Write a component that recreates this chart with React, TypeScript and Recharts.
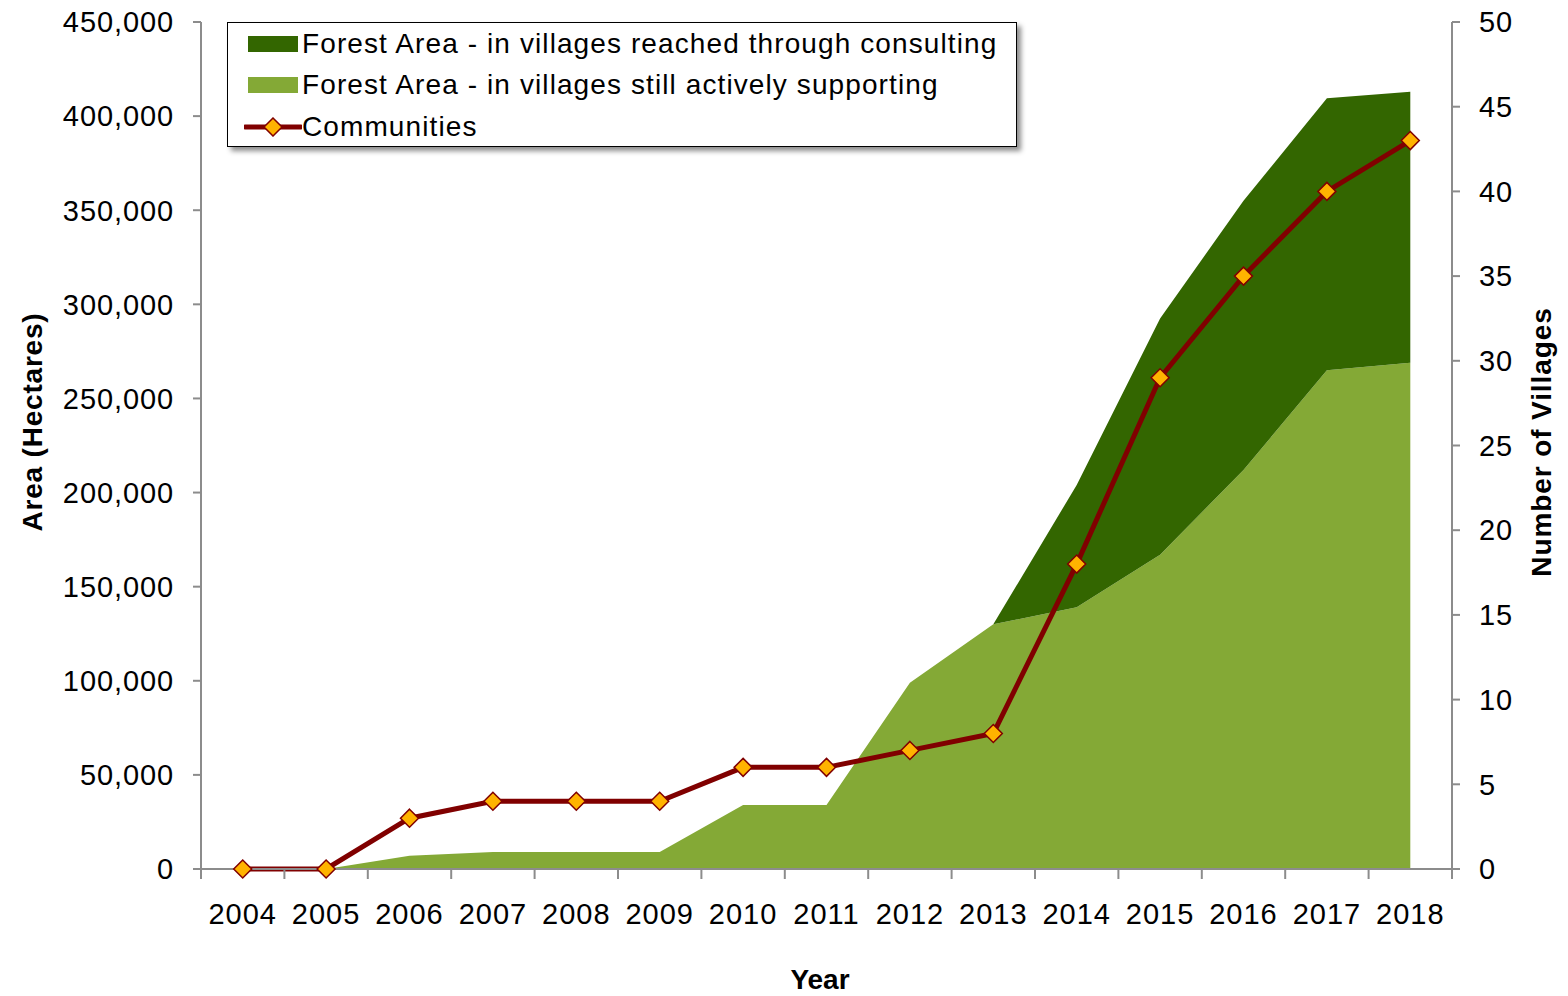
import React from 'react'
import { ComposedChart, Area, Line, XAxis, YAxis, Legend, Label } from 'recharts'

const years = ['2004', '2005', '2006', '2007', '2008', '2009', '2010', '2011', '2012', '2013', '2014', '2015', '2016', '2017', '2018']
// hectares, villages still actively supporting
const activeArea = [0, 0, 7000, 9000, 9000, 9000, 34000, 34000, 99000, 130000, 139000, 167000, 212000, 265000, 269000]
// hectares, villages reached through consulting (stacked on top)
const consultingArea = [0, 0, 0, 0, 0, 0, 0, 0, 0, 0, 65000, 125500, 143000, 144500, 144000]
const communities = [0, 0, 3, 4, 4, 4, 6, 6, 7, 8, 18, 29, 35, 40, 43]

const areaTicks = [0, 50000, 100000, 150000, 200000, 250000, 300000, 350000, 400000, 450000]
const villageTicks = [0, 5, 10, 15, 20, 25, 30, 35, 40, 45, 50]

const data = years.map((year, i) => ({
  year,
  active: activeArea[i],
  consulting: consultingArea[i],
  communities: communities[i],
}))

const WIDTH = 1568
const HEIGHT = 996
const LEFT_W = 201
const RIGHT_W = 116
const X_H = 127
const BAND = (WIDTH - LEFT_W - RIGHT_W) / years.length
const FONT = '"Liberation Sans", Arial, sans-serif'
const AXIS = '#8C8C8C'
const DARK = '#336600'
const LIGHT = '#84A936'
const LINE = '#800000'
const MARK = '#FFB300'

const X_TICK = 10
const X_MARGIN = 24

const YearTick = (props: any) => {
  const { x, y, payload, index } = props
  const axisY = y - X_TICK - X_MARGIN
  const half = BAND / 2
  return (
    <g>
      <line x1={x - half} x2={x - half} y1={axisY} y2={axisY + X_TICK} stroke={AXIS} strokeWidth={2} />
      {index === years.length - 1 && (
        <line x1={x + half} x2={x + half} y1={axisY} y2={axisY + X_TICK} stroke={AXIS} strokeWidth={2} />
      )}
      <text x={x} y={y} dy="0.71em" textAnchor="middle" fill="#000" fontSize={29} letterSpacing={1} fontFamily={FONT}>
        {payload.value}
      </text>
    </g>
  )
}

const Diamond = (props: any) => {
  const { cx, cy, index } = props
  if (cx == null || cy == null) return null
  const r = 9
  return (
    <polygon
      key={`d-${index}`}
      points={`${cx},${cy - r} ${cx + r},${cy} ${cx},${cy + r} ${cx - r},${cy}`}
      fill={MARK}
      stroke={LINE}
      strokeWidth={1.5}
    />
  )
}

const rowStyle: React.CSSProperties = { display: 'flex', alignItems: 'center', height: 41.5 }
const textStyle: React.CSSProperties = {
  fontSize: 28,
  letterSpacing: 1.1,
  color: '#000',
  fontFamily: FONT,
  whiteSpace: 'nowrap',
}

const LegendBox = () => (
  <div
    style={{
      boxSizing: 'border-box',
      width: 790,
      height: 125,
      border: '1.5px solid #000',
      background: '#fff',
      boxShadow: '4px 4px 5px rgba(0,0,0,0.45)',
    }}
  >
    <div style={rowStyle}>
      <span style={{ width: 50, height: 16, background: DARK, marginLeft: 20, marginRight: 4 }} />
      <span style={textStyle}>Forest Area - in villages reached through consulting</span>
    </div>
    <div style={rowStyle}>
      <span style={{ width: 50, height: 16, background: LIGHT, marginLeft: 20, marginRight: 4 }} />
      <span style={textStyle}>Forest Area - in villages still actively supporting</span>
    </div>
    <div style={rowStyle}>
      <svg width={58} height={20} style={{ marginLeft: 16, display: 'block' }}>
        <line x1={1} x2={57} y1={10} y2={10} stroke={LINE} strokeWidth={5} strokeLinecap="round" />
        <polygon points="29,1 38,10 29,19 20,10" fill={MARK} stroke={LINE} strokeWidth={1.5} />
      </svg>
      <span style={textStyle}>Communities</span>
    </div>
  </div>
)

const App = () => {
  return (
    <div style={{ position: 'absolute', left: 0, top: 0, fontFamily: FONT }}>
      <ComposedChart width={WIDTH} height={HEIGHT} data={data} margin={{ top: 22, right: 0, bottom: 0, left: 0 }}>
        <XAxis
          dataKey="year"
          height={X_H}
          padding={{ left: BAND / 2, right: BAND / 2 }}
          stroke={AXIS}
          strokeWidth={2}
          tickLine={false}
          tickSize={X_TICK}
          tickMargin={X_MARGIN}
          interval={0}
          tick={<YearTick />}
        >
          <Label
            content={() => (
              <text x={820} y={989} textAnchor="middle" fontSize={28} fontWeight="bold" fontFamily={FONT} fill="#000">
                Year
              </text>
            )}
          />
        </XAxis>
        <YAxis
          yAxisId="left"
          width={LEFT_W}
          domain={[0, 450000]}
          ticks={areaTicks}
          interval={0}
          stroke={AXIS}
          strokeWidth={2}
          tickSize={8}
          tickMargin={19}
          tick={{ fill: '#000', fontSize: 29, letterSpacing: 0.9, fontFamily: FONT }}
          tickFormatter={(v: number) => v.toLocaleString('en-US')}
        >
          <Label
            content={() => (
              <text x={32} y={422} transform="rotate(-90 32 422)" textAnchor="middle" dominantBaseline="central" fontSize={28} letterSpacing={0.8} fontWeight="bold" fontFamily={FONT} fill="#000">
                Area (Hectares)
              </text>
            )}
          />
        </YAxis>
        <YAxis
          yAxisId="right"
          orientation="right"
          width={RIGHT_W}
          domain={[0, 50]}
          ticks={villageTicks}
          interval={0}
          stroke={AXIS}
          strokeWidth={2}
          tickSize={8}
          tickMargin={19}
          tick={{ fill: '#000', fontSize: 29, letterSpacing: 0.9, fontFamily: FONT, textAnchor: 'start' }}
        >
          <Label
            content={() => (
              <text x={1541} y={442} transform="rotate(-90 1541 442)" textAnchor="middle" dominantBaseline="central" fontSize={28} letterSpacing={0.9} fontWeight="bold" fontFamily={FONT} fill="#000">
                Number of Villages
              </text>
            )}
          />
        </YAxis>
        <Area
          yAxisId="left"
          type="linear"
          dataKey="active"
          stackId="forest"
          stroke="none"
          fill={LIGHT}
          fillOpacity={1}
          isAnimationActive={false}
        />
        <Area
          yAxisId="left"
          type="linear"
          dataKey="consulting"
          stackId="forest"
          stroke="none"
          fill={DARK}
          fillOpacity={1}
          isAnimationActive={false}
        />
        <Line
          yAxisId="right"
          type="linear"
          dataKey="communities"
          stroke={LINE}
          strokeWidth={5}
          dot={<Diamond />}
          activeDot={false}
          isAnimationActive={false}
        />
        <Legend
          layout="vertical"
          align="center"
          verticalAlign="middle"
          wrapperStyle={{ left: 227, top: 22, width: 790, height: 125 }}
          content={() => <LegendBox />}
        />
      </ComposedChart>
    </div>
  )
}

export default App
